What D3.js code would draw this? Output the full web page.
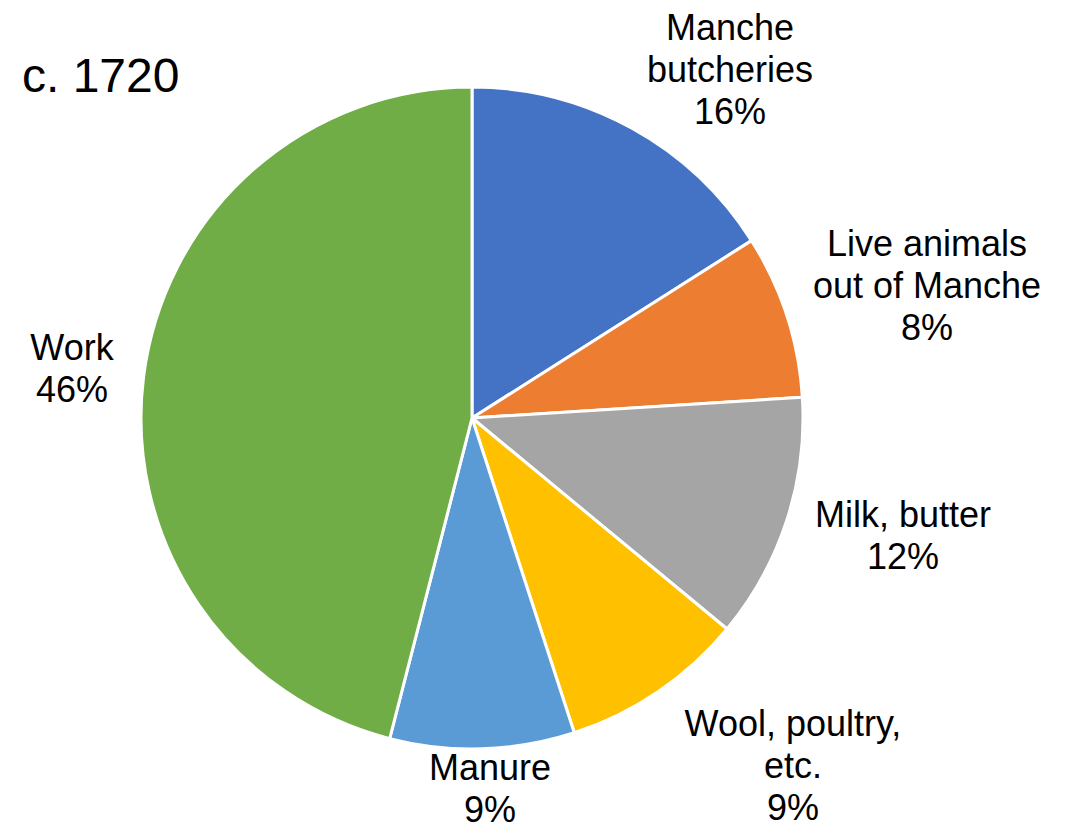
<!DOCTYPE html>
<html>
<head>
<meta charset="utf-8">
<script src="https://cdn.jsdelivr.net/npm/d3@7"></script>
<style>
  html, body { margin: 0; padding: 0; background: #fff; }
  svg { display: block; }
  text { font-family: "Liberation Sans", Arial, sans-serif; fill: #000; }
</style>
</head>
<body>
<svg id="chart" width="1072" height="824"></svg>
<script>
// Uses of cattle, Manche, c. 1720 (share of total, %)
const categories = ["Manche butcheries", "Live animals out of Manche", "Milk, butter", "Wool, poultry, etc.", "Manure", "Work"];
const labelLines = [["Manche", "butcheries"], ["Live animals", "out of Manche"], ["Milk, butter"], ["Wool, poultry,", "etc."], ["Manure"], ["Work"]];
const values = [16, 8, 12, 9, 9, 46];
const colors = ["#4472C4", "#ED7D31", "#A5A5A5", "#FFC000", "#5B9BD5", "#70AD47"];
const title = "c. 1720";

const width = 1072, height = 824;
const cx = 472, cy = 418, radius = 331;
const fontSize = 36, lineH = 42;

// Label anchor points (centre of text block), relative to pie centre
const labelAnchors = [
  [258, -349], [455, -133], [431, 117], [321, 347], [18, 370], [-400, -50]
];

const svg = d3.select("#chart");

svg.append("text")
  .attr("x", 22).attr("y", 92)
  .attr("font-size", 48)
  .text(title);

const pie = d3.pie().sort(null).value(d => d.value);
const arc = d3.arc().innerRadius(0).outerRadius(radius);

const data = categories.map((c, i) => ({ name: c, value: values[i], lines: labelLines[i], color: colors[i], anchor: labelAnchors[i] }));
const arcs = pie(data);

const g = svg.append("g").attr("transform", `translate(${cx},${cy})`);

g.selectAll("path.slice")
  .data(arcs)
  .join("path")
  .attr("class", "slice")
  .attr("d", arc)
  .attr("fill", d => d.data.color)
  .attr("stroke", "#fff")
  .attr("stroke-width", 3)
  .attr("stroke-linejoin", "round");

const fmt = d3.format(".0%");
const total = d3.sum(values);

const labels = g.selectAll("text.lbl")
  .data(arcs)
  .join("text")
  .attr("class", "lbl")
  .attr("text-anchor", "middle")
  .attr("font-size", fontSize);

labels.each(function(d) {
  const lines = d.data.lines.concat([fmt(d.data.value / total)]);
  const n = lines.length;
  const [ax, ay] = d.data.anchor;
  const t = d3.select(this);
  lines.forEach((ln, i) => {
    t.append("tspan")
      .attr("x", ax)
      .attr("y", ay + (i - (n - 1) / 2) * lineH)
      .attr("dy", "0.35em")
      .text(ln);
  });
});
</script>
</body>
</html>
